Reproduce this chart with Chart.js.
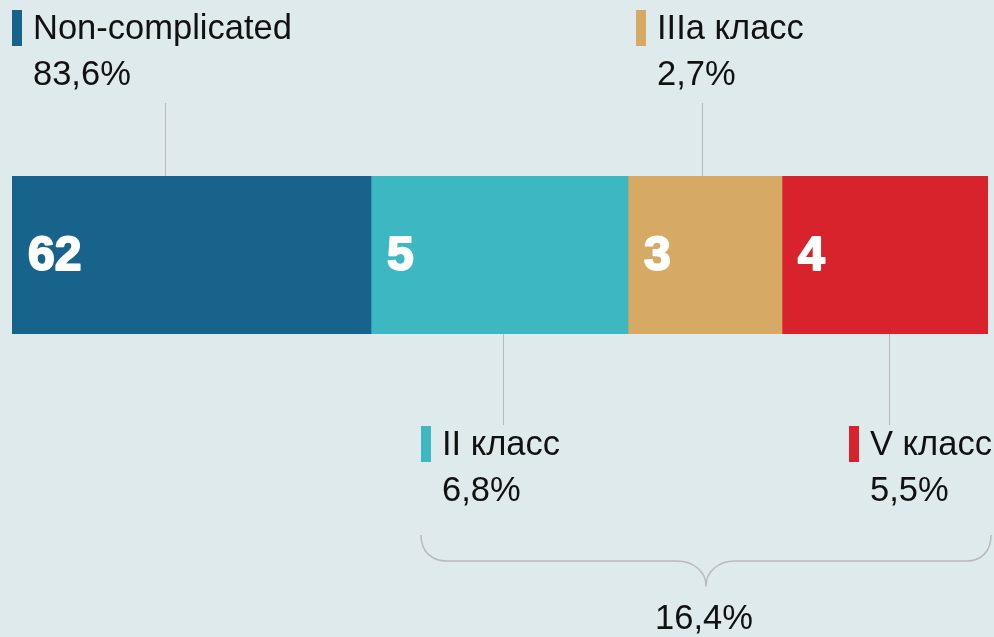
<!DOCTYPE html>
<html>
<head>
<meta charset="utf-8">
<script src="https://cdn.jsdelivr.net/npm/chart.js@4.4.1/dist/chart.umd.min.js"></script>
<style>
  html, body { margin: 0; padding: 0; background: #deeaec; }
  #wrap { width: 994px; height: 637px; }
</style>
</head>
<body>
<div id="wrap"><canvas id="grafico" width="994" height="637"></canvas></div>
<script>
// Dados
const categorias = ['Non-complicated', 'II класс', 'IIIa класс', 'V класс'];
const contagens = [62, 5, 3, 4];               // números dentro das barras
const percentuais = [83.6, 6.8, 2.7, 5.5];      // rótulos em %
const larguraSegmento = [359, 257, 154, 206];   // largura relativa de cada bloco
const totalComplicados = 16.4;
const cores = ['#17638b', '#3db7c2', '#d6a965', '#d8232c'];

// Layout das legendas (lado, posição da linha guia dentro do bloco, deslocamento do rótulo)
const guias = [
    { lado: 'top', frac: 0.426, dx: -153 },
    { lado: 'bottom', frac: 0.514, dx: -82 },
    { lado: 'top', frac: 0.48, dx: -66 },
    { lado: 'bottom', frac: 0.52, dx: -40 }
];

const fonteTexto = '34.5px "Liberation Sans", Arial, sans-serif';
const corTexto = '#111111';
const corLinha = '#b9b9b9';

function fmt(v) { return v.toFixed(1).replace('.', ',') + '%'; }

const pluginAnotacoes = {
    id: 'anotacoes',
    afterDatasetsDraw(chart) {
        const ctx = chart.ctx;
        const area = chart.chartArea;
        ctx.save();

        chart.data.datasets.forEach((ds, i) => {
            const bar = chart.getDatasetMeta(i).data[0];
            const x0 = bar.base, x1 = bar.x;

            // número dentro do bloco
            ctx.fillStyle = '#ffffff';
            ctx.strokeStyle = '#ffffff';
            ctx.lineWidth = 2;
            ctx.lineJoin = 'round';
            ctx.font = 'bold 48px "Liberation Sans", Arial, sans-serif';
            ctx.textAlign = 'left';
            ctx.textBaseline = 'middle';
            ctx.fillText(String(contagens[i]), x0 + 16, bar.y + 2);
            ctx.strokeText(String(contagens[i]), x0 + 16, bar.y + 2);

            // linha guia
            const g = guias[i];
            const lx = Math.round(x0 + g.frac * (x1 - x0)) + 0.5;
            ctx.strokeStyle = corLinha;
            ctx.lineWidth = 1;
            ctx.beginPath();
            if (g.lado === 'top') {
                ctx.moveTo(lx, area.top - 73);
                ctx.lineTo(lx, area.top);
            } else {
                ctx.moveTo(lx, area.bottom);
                ctx.lineTo(lx, area.bottom + 91);
            }
            ctx.stroke();

            // rótulo com marcador colorido
            const mx = lx - 0.5 + g.dx;
            const topo = g.lado === 'top' ? 10 : 426;
            ctx.fillStyle = cores[i];
            ctx.fillRect(mx, topo, 10, 36);
            ctx.fillStyle = corTexto;
            ctx.font = fonteTexto;
            ctx.textBaseline = 'alphabetic';
            ctx.fillText(categorias[i], mx + 21, topo + 29);
            ctx.fillText(fmt(percentuais[i]), mx + 21, topo + 75);
        });

        // chave agrupando os complicados
        const bx0 = 421, bx1 = 991, by0 = 535, by1 = 561, tipY = 586;
        const tipX = 706;
        ctx.strokeStyle = corLinha;
        ctx.lineWidth = 1.5;
        ctx.beginPath();
        ctx.moveTo(bx0, by0);
        ctx.bezierCurveTo(bx0, by0 + 17, bx0 + 11, by1, bx0 + 26, by1);
        ctx.lineTo(tipX - 29, by1);
        ctx.bezierCurveTo(tipX - 12, by1, tipX, by1 + 11, tipX, tipY);
        ctx.bezierCurveTo(tipX, by1 + 11, tipX + 12, by1, tipX + 29, by1);
        ctx.lineTo(bx1 - 25, by1);
        ctx.bezierCurveTo(bx1 - 10, by1, bx1, by0 + 17, bx1, by0);
        ctx.stroke();

        ctx.fillStyle = corTexto;
        ctx.font = fonteTexto;
        ctx.textAlign = 'center';
        ctx.fillText(fmt(totalComplicados), tipX - 2, 629);

        ctx.restore();
    }
};

const ctx = document.getElementById('grafico').getContext('2d');
new Chart(ctx, {
    type: 'bar',
    data: {
        labels: ['total'],
        datasets: categorias.map((c, i) => ({
            label: c,
            data: [larguraSegmento[i]],
            backgroundColor: cores[i],
            borderWidth: 0,
            barPercentage: 1,
            categoryPercentage: 1
        }))
    },
    options: {
        indexAxis: 'y',
        responsive: false,
        animation: false,
        layout: { padding: { left: 12, right: 6, top: 176, bottom: 303 } },
        plugins: { legend: { display: false }, tooltip: { enabled: false } },
        scales: {
            x: { stacked: true, display: false, min: 0, max: larguraSegmento.reduce((a, b) => a + b, 0) },
            y: { stacked: true, display: false }
        }
    },
    plugins: [pluginAnotacoes]
});
</script>
</body>
</html>
